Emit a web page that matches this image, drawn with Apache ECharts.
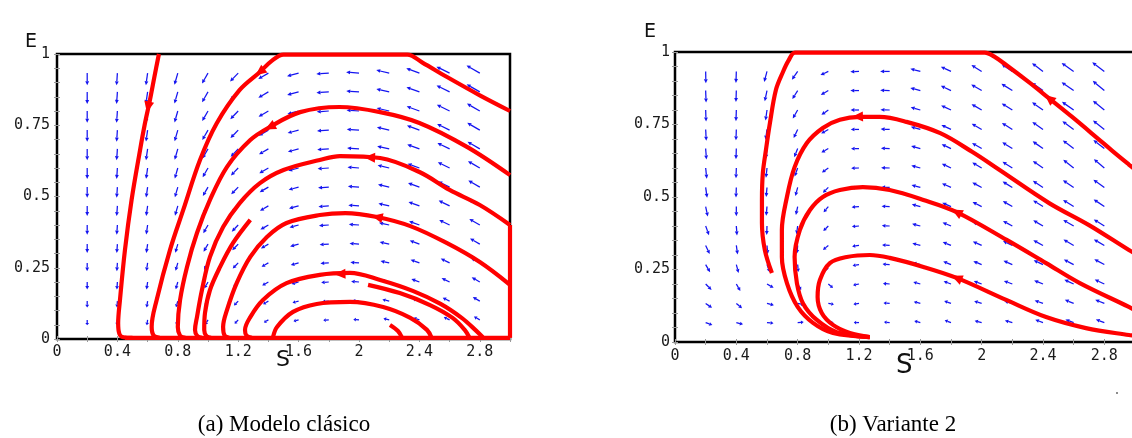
<!DOCTYPE html>
<html><head><meta charset="utf-8">
<script src="https://cdn.jsdelivr.net/npm/echarts@6/dist/echarts.min.js"></script>
<style>html,body{margin:0;padding:0;background:#fff}#c{width:1132px;height:438px}</style>
</head><body><div id="c"></div>
<script>
// ---------- data ----------
const xTicks = [0, 0.4, 0.8, 1.2, 1.6, 2, 2.4, 2.8];
const yTicks = [0, 0.25, 0.5, 0.75, 1];
const fieldS = [0.2,0.4,0.6,0.8,1.0,1.2,1.4,1.6,1.8,2.0,2.2,2.4,2.6,2.8];
const fieldE = [0.067,0.133,0.2,0.267,0.333,0.4,0.467,0.533,0.6,0.667,0.733,0.8,0.867,0.933];

// left panel: direction of arrows per column (degrees), magnitude per row / column
const leftAngles = [270,266,262,254,240,226,210,195,184,176,167,160,154,150];
const leftRowMag = [0.42,0.5,0.58,0.64,0.7,0.75,0.79,0.82,0.85,0.88,0.9,0.92,0.94,0.95];
const leftColMag = [0.92,0.92,0.92,0.92,0.9,0.88,0.88,0.9,0.94,0.97,1,1.05,1.1,1.15];

// right panel: direction per cell, rows bottom -> top
const rightAngles = [
  [340,345,355,5,0,180,175,165,160,165,165,160,160,160],
  [325,320,345,350,350,188,175,165,160,163,163,160,158,158],
  [315,300,330,300,320,192,176,165,160,160,160,158,155,155],
  [300,285,290,275,250,190,176,165,158,158,157,155,153,152],
  [295,278,275,265,220,188,177,165,158,156,155,152,150,150],
  [290,274,268,262,225,185,177,165,157,155,152,150,150,148],
  [282,270,265,258,230,185,177,165,157,153,150,148,148,146],
  [278,268,265,255,225,183,178,165,156,152,149,147,146,145],
  [276,268,264,250,215,182,178,165,155,150,148,145,142,140],
  [274,268,264,248,210,181,178,165,155,150,148,145,143,142],
  [273,268,262,245,210,180,178,164,155,150,148,145,144,142],
  [272,268,262,240,215,180,178,164,155,150,148,145,145,141],
  [272,268,258,238,210,180,178,165,155,150,148,145,145,140],
  [271,268,255,235,205,182,180,165,155,148,146,143,145,143]
];
const rightRowMag = [0.6,0.65,0.7,0.75,0.8,0.82,0.85,0.88,0.9,0.92,0.95,0.97,1,1];
const rightColMag = [0.85,0.82,0.78,0.72,0.62,0.62,0.68,0.74,0.8,0.86,0.92,0.98,1.05,1.08];

// left panel trajectories [S, E]
const leftA = [[0.675,1.0],[0.645,0.92],[0.616,0.84],[0.58,0.75],[0.55,0.663],[0.494,0.488],[0.45,0.312],[0.417,0.137],[0.405,0.055],[0.413,0.018],[0.44,0.006],[0.5,0.004]];
const leftB = [[3.0,0.80],[2.8,0.855],[2.58,0.92],[2.42,0.97],[2.32,0.998],[2.1,0.998],[1.9,0.998],[1.7,0.998],[1.5,0.998],[1.42,0.975],[1.344,0.937],[1.21,0.874],[1.058,0.757],[0.947,0.628],[0.836,0.453],[0.748,0.312],[0.66,0.137],[0.627,0.043],[0.64,0.012],[0.68,0.004]];
const leftC = [[3.0,0.575],[2.715,0.674],[2.40,0.758],[2.14,0.796],[1.87,0.814],[1.61,0.796],[1.41,0.744],[1.28,0.698],[1.126,0.604],[1.013,0.488],[0.927,0.372],[0.861,0.253],[0.815,0.137],[0.80,0.042],[0.815,0.012],[0.85,0.004]];
const leftD = [[3.0,0.40],[2.80,0.47],[2.60,0.523],[2.40,0.586],[2.14,0.635],[1.874,0.642],[1.74,0.628],[1.50,0.593],[1.344,0.547],[1.21,0.477],[1.10,0.393],[1.013,0.288],[0.96,0.172],[0.927,0.077],[0.914,0.032],[0.93,0.01],[0.96,0.004]];
const leftE = [[1.28,0.418],[1.166,0.337],[1.08,0.253],[1.013,0.172],[0.98,0.091],[0.975,0.032],[0.99,0.01],[1.02,0.004]];
const leftF = [[3.0,0.19],[2.80,0.27],[2.58,0.337],[2.34,0.396],[2.12,0.428],[1.91,0.442],[1.74,0.435],[1.52,0.407],[1.39,0.358],[1.28,0.288],[1.19,0.196],[1.126,0.102],[1.10,0.042],[1.11,0.012],[1.14,0.004]];
const leftG = [[1.29,0.004],[1.255,0.012],[1.245,0.032],[1.28,0.077],[1.364,0.137],[1.52,0.196],[1.74,0.225],[1.94,0.232],[2.14,0.207],[2.36,0.168],[2.54,0.123],[2.68,0.074],[2.77,0.032],[2.82,0.006]];
const leftH = [[2.06,0.19],[2.27,0.161],[2.47,0.119],[2.62,0.074],[2.70,0.032],[2.73,0.006]];
const leftI = [[1.43,0.005],[1.457,0.042],[1.563,0.095],[1.72,0.123],[1.94,0.13],[2.16,0.112],[2.34,0.074],[2.45,0.032],[2.48,0.005]];
const leftJ = [[2.205,0.049],[2.258,0.028],[2.285,0.005]];
const leftBottom = [[0.45,0.004],[3.0,0.004]];
const leftEdge = [[3.0,0.40],[3.0,0.004]];
const leftHeads = [[0.603,0.814,258],[1.344,0.937,218],[1.41,0.744,207],[2.07,0.637,178],[2.12,0.428,168],[1.874,0.228,182]];

// right panel trajectories
const rightTop = [[3.0,0.595],[2.96,0.612],[2.85,0.66],[2.75,0.705],[2.59,0.776],[2.44,0.84],[2.31,0.895],[2.16,0.955],[2.08,0.985],[2.02,0.998],[1.85,0.998],[1.6,0.998],[1.3,0.998],[1.0,0.998],[0.782,0.998],[0.74,0.97],[0.704,0.931],[0.658,0.869],[0.619,0.755],[0.593,0.662],[0.573,0.583],[0.567,0.49],[0.567,0.41],[0.586,0.317],[0.632,0.238]];
const right2 = [[3.0,0.305],[2.96,0.317],[2.70,0.403],[2.44,0.479],[2.117,0.593],[1.94,0.655],[1.73,0.72],[1.51,0.759],[1.335,0.776],[1.205,0.776],[1.075,0.766],[0.964,0.738],[0.86,0.686],[0.78,0.603],[0.73,0.5],[0.697,0.386],[0.697,0.293],[0.73,0.203],[0.80,0.121],[0.90,0.066],[1.03,0.031],[1.27,0.017]];
const right3 = [[3.0,0.11],[2.96,0.121],[2.64,0.203],[2.42,0.272],[2.163,0.352],[1.837,0.448],[1.62,0.49],[1.40,0.524],[1.225,0.534],[1.075,0.524],[0.964,0.5],[0.88,0.455],[0.814,0.386],[0.78,0.293],[0.795,0.203],[0.834,0.134],[0.925,0.076],[1.055,0.034],[1.27,0.017]];
const right4 = [[3.0,0.022],[2.96,0.024],[2.68,0.048],[2.42,0.086],[2.16,0.145],[1.837,0.221],[1.62,0.259],[1.40,0.29],[1.27,0.30],[1.12,0.293],[1.01,0.272],[0.945,0.214],[0.93,0.155],[0.957,0.1],[1.03,0.059],[1.14,0.031],[1.27,0.017]];
const rightHeads = [[2.44,0.84,141],[1.19,0.777,182],[1.837,0.448,152],[1.837,0.221,157]];

const captions = ['(a) Modelo clásico', '(b) Variante 2'];

// ---------- build ----------
const RED = '#ff0000', BLUE = '#1414f0';
const leftField = [], rightField = [];
fieldE.forEach((e, r) => fieldS.forEach((s, c) => {
  leftField.push([s, e, leftAngles[c], leftRowMag[r] * leftColMag[c]]);
  rightField.push([s, e, rightAngles[r][c], rightRowMag[r] * rightColMag[c]]);
}));

function fieldRender(params, api) {
  const p = api.coord([api.value(0), api.value(1)]);
  const a = api.value(2) * Math.PI / 180;
  const L = api.value(3) * 14;
  const ux = Math.cos(a), uy = -Math.sin(a);
  const hx = p[0] + ux * L, hy = p[1] + uy * L;
  const hl = Math.min(4, L * 0.45), hw = 1.9;
  const bx = hx - ux * hl, by = hy - uy * hl;
  return { type: 'group', children: [
    { type: 'line', shape: { x1: p[0], y1: p[1], x2: bx, y2: by }, style: { stroke: BLUE, lineWidth: 1.25 } },
    { type: 'polygon', shape: { points: [[hx, hy], [bx - uy * hw, by + ux * hw], [bx + uy * hw, by - ux * hw]] }, style: { fill: BLUE } }
  ]};
}
function headRender(params, api) {
  const p = api.coord([api.value(0), api.value(1)]);
  const a = api.value(2) * Math.PI / 180;
  const ux = Math.cos(a), uy = -Math.sin(a);
  const hl = 11, hw = 5;
  const hx = p[0] + ux * hl * 0.5, hy = p[1] + uy * hl * 0.5;
  const bx = p[0] - ux * hl * 0.5, by = p[1] - uy * hl * 0.5;
  return { type: 'polygon', shape: { points: [[hx, hy], [bx - uy * hw, by + ux * hw], [bx + uy * hw, by - ux * hw]] }, style: { fill: RED } };
}

const labelFont = { fontFamily: 'DejaVu Sans Mono', fontSize: 15, color: '#1a1a1a' };
function xAxes(gi, margin) {
  return [
    { gridIndex: gi, type: 'value', min: 0, max: 3, interval: 0.2, position: 'bottom',
      axisLine: { show: false }, splitLine: { show: false },
      axisTick: { show: true, length: 3, lineStyle: { color: '#999' } },
      axisLabel: Object.assign({ margin: margin, formatter: v => {
        const t = xTicks.find(k => Math.abs(k - v) < 1e-6); return t === undefined ? '' : String(t); } }, labelFont) },
    { gridIndex: gi, type: 'value', min: 0, max: 3, interval: 0.2, position: 'top',
      axisLine: { show: false }, splitLine: { show: false }, axisLabel: { show: false },
      axisTick: { show: true, length: 3, lineStyle: { color: '#999' } } }
  ];
}
function yAxes(gi, margin) {
  return [
    { gridIndex: gi, type: 'value', min: 0, max: 1, interval: 0.05, position: 'left',
      axisLine: { show: false }, splitLine: { show: false },
      axisTick: { show: true, length: 3, lineStyle: { color: '#999' } },
      axisLabel: Object.assign({ margin: margin, formatter: v => {
        const t = yTicks.find(k => Math.abs(k - v) < 1e-6); return t === undefined ? '' : String(t); } }, labelFont) },
    { gridIndex: gi, type: 'value', min: 0, max: 1, interval: 0.05, position: 'right',
      axisLine: { show: false }, splitLine: { show: false }, axisLabel: { show: false },
      axisTick: { show: true, length: 3, lineStyle: { color: '#999' } } }
  ];
}
function traj(data, xi, yi) {
  return { type: 'line', data: data, xAxisIndex: xi, yAxisIndex: yi, smooth: 0.35, symbol: 'none',
    clip: false, z: 5, lineStyle: { color: RED, width: 4.2 }, silent: true };
}

const series = [
  { type: 'custom', xAxisIndex: 0, yAxisIndex: 0, data: leftField, renderItem: fieldRender, z: 3, silent: true },
  { type: 'custom', xAxisIndex: 2, yAxisIndex: 2, data: rightField, renderItem: fieldRender, z: 3, silent: true }
];
[leftA, leftB, leftC, leftD, leftE, leftF, leftG, leftH, leftI, leftJ, leftBottom, leftEdge].forEach(d => series.push(traj(d, 0, 0)));
[rightTop, right2, right3, right4].forEach(d => series.push(traj(d, 2, 2)));
series.push({ type: 'custom', xAxisIndex: 0, yAxisIndex: 0, data: leftHeads, renderItem: headRender, z: 6, clip: false, silent: true });
series.push({ type: 'custom', xAxisIndex: 2, yAxisIndex: 2, data: rightHeads, renderItem: headRender, z: 6, clip: false, silent: true });

const chart = echarts.init(document.getElementById('c'), null, { renderer: 'canvas' });
chart.setOption({
  animation: false,
  backgroundColor: '#fff',
  grid: [
    { left: 57, top: 54, width: 453, height: 285, show: true, borderColor: '#000', borderWidth: 2.5, backgroundColor: 'transparent', containLabel: false, outerBoundsMode: 'none' },
    { left: 675, top: 52, width: 460, height: 290, show: true, borderColor: '#000', borderWidth: 2.5, backgroundColor: 'transparent', containLabel: false, outerBoundsMode: 'none' }
  ],
  xAxis: xAxes(0, 6).concat(xAxes(1, 7)),
  yAxis: yAxes(0, 7).concat(yAxes(1, 5)),
  series: series,
  graphic: [
    { type: 'text', left: 25, top: 33, style: { text: 'E', font: '19px "DejaVu Sans"', fill: '#111' } },
    { type: 'text', left: 276, top: 349, style: { text: 'S', font: '22px "DejaVu Sans"', fill: '#111' } },
    { type: 'text', left: 644, top: 23, style: { text: 'E', font: '19px "DejaVu Sans"', fill: '#111' } },
    { type: 'text', left: 896, top: 353, style: { text: 'S', font: '26px "DejaVu Sans"', fill: '#111' } },
    { type: 'text', x: 284, y: 425, style: { text: captions[0], font: '23px "Liberation Serif"', fill: '#000', align: 'center', verticalAlign: 'middle' } },
    { type: 'text', x: 893, y: 425, style: { text: captions[1], font: '23px "Liberation Serif"', fill: '#000', align: 'center', verticalAlign: 'middle' } },
    { type: 'circle', shape: { cx: 1117, cy: 393, r: 1 }, style: { fill: '#666' } }
  ]
});
</script></body></html>
